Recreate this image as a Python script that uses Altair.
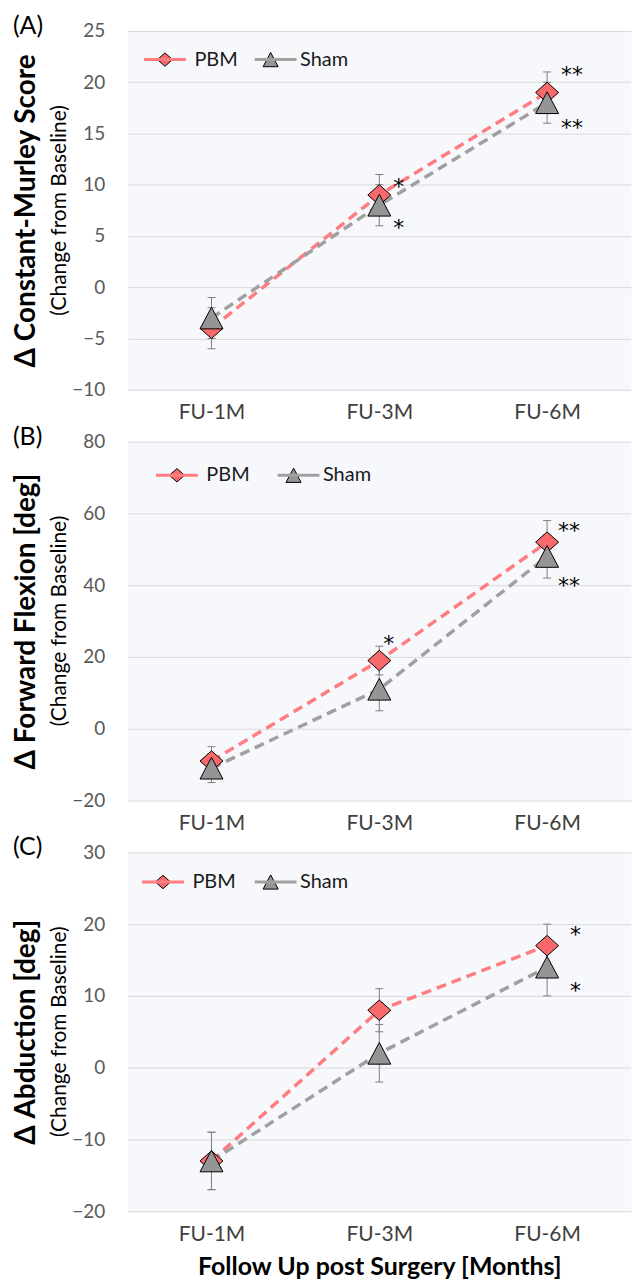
import altair as alt
import pandas as pd

# ---------------- data ----------------
categories = ["FU-1M", "FU-3M", "FU-6M"]
series = ["PBM", "Sham"]

# (A) Constant-Murley score, change from baseline
cms_pbm = [-4, 9, 19]
cms_pbm_err = [2, 2, 2]
cms_sham = [-3, 8, 18]
cms_sham_err = [2, 2, 2]
cms_ticks = [-10, -5, 0, 5, 10, 15, 20, 25]
cms_star_cat = ["FU-3M", "FU-3M", "FU-6M", "FU-6M"]
cms_star_val = [10.4, 6.4, 21.3, 16.1]
cms_star_txt = ["*", "*", "**", "**"]

# (B) Forward flexion [deg]
ff_pbm = [-9, 19, 52]
ff_pbm_err = [4, 4, 6]
ff_sham = [-11, 11, 48]
ff_sham_err = [4, 6, 6]
ff_ticks = [-20, 0, 20, 40, 60, 80]
ff_star_cat = ["FU-3M", "FU-6M", "FU-6M"]
ff_star_val = [25.3, 56.7, 41.4]
ff_star_txt = ["*", "**", "**"]

# (C) Abduction [deg]
abd_pbm = [-13, 8, 17]
abd_pbm_err = [4, 3, 3]
abd_sham = [-13, 2, 14]
abd_sham_err = [4, 4, 4]
abd_ticks = [-20, -10, 0, 10, 20, 30]
abd_star_cat = ["FU-6M", "FU-6M"]
abd_star_val = [19.3, 11.5]
abd_star_txt = ["*", "*"]

# ---------------- style ----------------
FONT = "Lato"
STAR_FONT = "DejaVu Sans"
SAL_FILL = "#F8696B"
SAL_LINE = "#FF7C80"
GRAY_FILL = "#959595"
GRAY_LINE = "#A0A0A0"
ERR_COL = "#7F7F7F"
BG = "#F7F8FC"
GRID = "#D9D9D9"
DIAMOND = "M-0.36,0L0,-0.32L0.36,0L0,0.32Z"
TRIANGLE = "M0,-0.34L0.36,0.34L-0.36,0.34Z"
LEG_LINE = "M-1.063,0H1.063"
LEG_LABEL_W = 42.6  # approx. width of the "PBM" legend label
W, H = 505, 360


def panel(letter, ytitle, pbm, pbm_err, sham, sham_err, yticks,
          s_cat, s_val, s_txt, s_dx, leg_x, leg_y, col_pad, xtitle=None):
    rows = []
    for name, vals, errs in (("PBM", pbm, pbm_err), ("Sham", sham, sham_err)):
        for c, v, e in zip(categories, vals, errs):
            rows.append({"cat": c, "series": name, "grp": name,
                         "value": v, "lo": v - e, "hi": v + e})
    df = pd.DataFrame(rows)
    base = alt.Chart(df)

    xaxis_kw = dict(labelAngle=0, domain=False, ticks=False, grid=False,
                    labelPadding=12, labelFont=FONT, labelFontSize=21,
                    labelColor="#404040")
    if xtitle:
        xaxis_kw.update(title=xtitle, titleFont=FONT, titleFontSize=25,
                        titleFontWeight="bold", titleColor="black",
                        titleY=56, titleBaseline="middle")
    else:
        xaxis_kw.update(title=None)
    xaxis = alt.Axis(**xaxis_kw)
    xscale = alt.Scale(type="point", padding=0.5)

    def X():
        return alt.X("cat:N", sort=categories, scale=xscale, axis=xaxis)

    yscale = alt.Scale(domain=[yticks[0], yticks[-1]], nice=False, zero=False)
    yaxis = alt.Axis(values=yticks, title=ytitle, grid=True, gridColor=GRID,
                     gridWidth=1, domain=False, ticks=False, tickSize=0,
                     labelPadding=23, labelFont=FONT, labelFontSize=19,
                     labelColor="#595959", titleFont=FONT, titleFontSize=28,
                     titleFontWeight="bold", titleColor="black",
                     titleAngle=270, titleX=-101, titleY=H / 2,
                     titleAlign="center", titleBaseline="middle")

    def Y(field):
        return alt.Y(field, scale=yscale, axis=yaxis)

    leg_common = dict(orient="none", legendX=leg_x, legendY=leg_y,
                      direction="horizontal", title=None,
                      labelFont=FONT, labelFontSize=20, labelColor="#1a1a1a",
                      columnPadding=col_pad, padding=0)
    # line part of the legend entries (no visible labels)
    leg_line = alt.Legend(symbolType=LEG_LINE, symbolSize=1560.25,
                          labelExpr="''", labelOffset=8 + LEG_LABEL_W,
                          symbolStrokeWidth=3, **leg_common)
    # marker part of the legend entries, with the labels
    leg_pt = alt.Legend(symbolSize=1764, symbolStrokeWidth=1, labelOffset=8,
                        **leg_common)

    lines = base.mark_line(strokeWidth=3.5).encode(
        x=X(), y=Y("value:Q"),
        color=alt.Color("series:N",
                        scale=alt.Scale(domain=series, range=[SAL_LINE, GRAY_LINE]),
                        legend=leg_line),
        strokeDash=alt.value([10, 6]),
    )
    err = base.mark_rule(color=ERR_COL, strokeWidth=1).encode(
        x=X(), y=Y("lo:Q"), y2="hi:Q")
    cap_lo = base.mark_tick(color=ERR_COL, size=8, thickness=1, opacity=1).encode(
        x=X(), y=Y("lo:Q"))
    cap_hi = base.mark_tick(color=ERR_COL, size=8, thickness=1, opacity=1).encode(
        x=X(), y=Y("hi:Q"))
    pts = base.mark_point(filled=True, opacity=1, stroke="black",
                          strokeWidth=1, size=4096).encode(
        x=X(), y=Y("value:Q"),
        fill=alt.Fill("grp:N",
                      scale=alt.Scale(domain=series, range=[SAL_FILL, GRAY_FILL]),
                      legend=leg_pt),
        shape=alt.Shape("grp:N",
                        scale=alt.Scale(domain=series, range=[DIAMOND, TRIANGLE]),
                        legend=leg_pt),
    )

    layers = [lines, err, cap_lo, cap_hi, pts]
    for c, v, t, d in zip(s_cat, s_val, s_txt, s_dx):
        sdf = pd.DataFrame({"cat": [c], "value": [v], "txt": [t]})
        layers.append(
            alt.Chart(sdf).mark_text(font=STAR_FONT, fontSize=22, color="black",
                                     align="left", baseline="middle",
                                     dx=d, dy=6).encode(
                x=X(), y=Y("value:Q"), text="txt:N"))

    lab = alt.Chart(pd.DataFrame({"t": [letter]})).mark_text(
        font=FONT, fontSize=25, color="black", align="left",
        baseline="middle").encode(x=alt.value(-115), y=alt.value(-5), text="t:N")
    sub = alt.Chart(pd.DataFrame({"t": ["(Change from Baseline)"]})).mark_text(
        font=FONT, fontSize=21, color="black", align="center",
        baseline="middle", angle=270).encode(
        x=alt.value(-68), y=alt.value(H / 2), text="t:N")
    layers += [lab, sub]

    return alt.layer(*layers).properties(width=W, height=H).resolve_scale(
        color="independent", fill="shared", shape="shared")


pA = panel("(A)", "\u0394 Constant-Murley Score", cms_pbm, cms_pbm_err,
           cms_sham, cms_sham_err, cms_ticks,
           cms_star_cat, cms_star_val, cms_star_txt, [14, 14, 14, 14],
           16, 7, 11)
pB = panel("(B)", "\u0394 Forward Flexion [deg]", ff_pbm, ff_pbm_err,
           ff_sham, ff_sham_err, ff_ticks,
           ff_star_cat, ff_star_val, ff_star_txt, [4, 11, 11],
           28, 12, 22)
pC = panel("(C)", "\u0394 Abduction [deg]", abd_pbm, abd_pbm_err,
           abd_sham, abd_sham_err, abd_ticks,
           abd_star_cat, abd_star_val, abd_star_txt, [23, 23],
           14, 8, 13, xtitle="Follow Up post Surgery [Months]")

chart = alt.vconcat(
    pA, pB, pC, spacing=52, bounds="flush",
    padding={"left": 12, "top": 11, "right": 0, "bottom": 0},
    background="white",
).resolve_scale(
    x="independent", y="independent", color="independent",
    fill="independent", shape="independent",
).resolve_legend(
    color="independent", fill="independent", shape="independent",
).configure_view(fill=BG, stroke="transparent")

chart.save("out.html", embed_options={"renderer": "svg", "actions": False})
